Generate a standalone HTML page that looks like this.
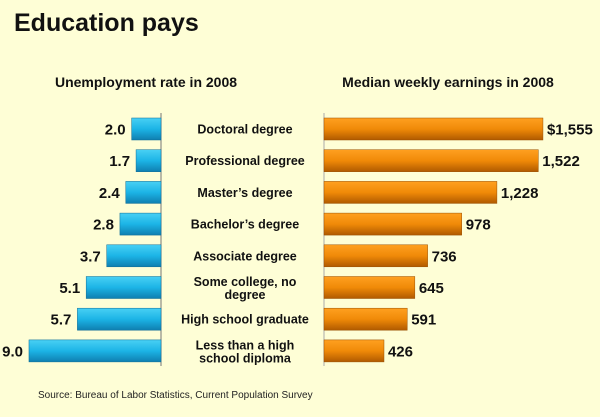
<!DOCTYPE html>
<html><head><meta charset="utf-8"><style>
body{margin:0;background:#fefed6;}
svg{display:block;font-family:"Liberation Sans",Arial,sans-serif;}
</style></head><body>
<svg width="600" height="417" viewBox="0 0 600 417">
<defs>
<linearGradient id="gb" x1="0" y1="0" x2="0" y2="1"><stop offset="0" stop-color="#48d0f4"/><stop offset="0.5" stop-color="#1cb4e6"/><stop offset="1" stop-color="#0f7fb0"/></linearGradient>
<linearGradient id="go" x1="0" y1="0" x2="0" y2="1"><stop offset="0" stop-color="#ffa020"/><stop offset="0.5" stop-color="#f08a08"/><stop offset="1" stop-color="#b05a00"/></linearGradient>
</defs>
<rect width="600" height="417" fill="#fefed6"/>
<text x="14" y="31" font-size="25" font-weight="bold" fill="#111">Education pays</text>
<text x="146" y="87" font-size="14" font-weight="bold" text-anchor="middle" fill="#111">Unemployment rate in 2008</text>
<text x="448" y="87" font-size="14" font-weight="bold" text-anchor="middle" fill="#111">Median weekly earnings in 2008</text>
<line x1="161" y1="113" x2="161" y2="366" stroke="#777" stroke-width="1"/>
<line x1="324" y1="113" x2="324" y2="366" stroke="#aaa" stroke-width="1"/>
<g id="bars"></g>
<text x="38" y="398" font-size="10" fill="#222">Source: Bureau of Labor Statistics, Current Population Survey</text>
</svg>
<script>
const categories=[["Doctoral degree"],["Professional degree"],["Master’s degree"],["Bachelor’s degree"],["Associate degree"],["Some college, no","degree"],["High school graduate"],["Less than a high","school diploma"]];
const unemployment=[2.0,1.7,2.4,2.8,3.7,5.1,5.7,9.0];
const unemploymentLabels=["2.0","1.7","2.4","2.8","3.7","5.1","5.7","9.0"];
const earnings=[1555,1522,1228,978,736,645,591,426];
const earningsLabels=["$1,555","1,522","1,228","978","736","645","591","426"];
const NS="http://www.w3.org/2000/svg";
const g=document.getElementById('bars');
const xL=v=>161-v*14.67;
const xR=v=>324+v*0.1408;
const yB=i=>118+i*31.7;
const bh=22;
function mk(tag,attrs){const e=document.createElementNS(NS,tag);for(const k in attrs)e.setAttribute(k,attrs[k]);g.appendChild(e);return e;}
categories.forEach((c,i)=>{
  const y=yB(i);
  const b1=mk('rect',{x:xL(unemployment[i]),y:y,width:161-xL(unemployment[i]),height:bh,fill:'url(#gb)',stroke:'#0b6a94','stroke-width':0.5});
  
  
  const t1=mk('text',{x:xL(unemployment[i])-6,y:y+bh/2+5.5,'font-size':15,'font-weight':'bold','text-anchor':'end',fill:'#111'});
  t1.textContent=unemploymentLabels[i];
  
  
  const b2=mk('rect',{x:324,y:y,width:xR(earnings[i])-324,height:bh,fill:'url(#go)',stroke:'#9a4f00','stroke-width':0.5});
  
  
  const t2=mk('text',{x:xR(earnings[i])+4,y:y+bh/2+5.5,'font-size':15,'font-weight':'bold',fill:'#111'});
  t2.textContent=earningsLabels[i];
  
  
  const lines=c;
  lines.forEach((ln,j)=>{
    const ty=y+bh/2+4.5+(lines.length===2?(j===0?-6:7):0);
    const t=mk('text',{x:245,y:ty,'font-size':12.5,'font-weight':'bold','text-anchor':'middle',fill:'#111'});
    t.textContent=ln;
    
    
  });
});
</script>
</body></html>
